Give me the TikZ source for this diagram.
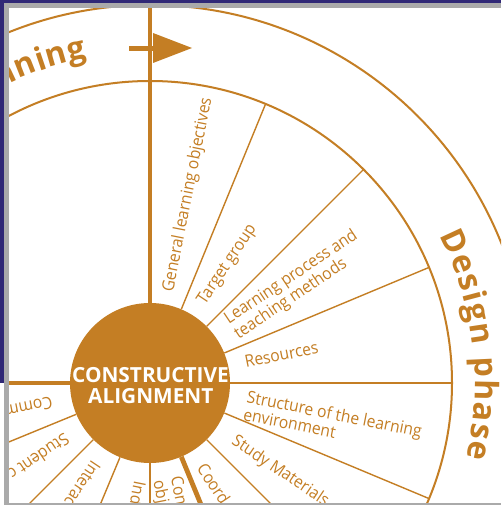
\documentclass[tikz,border=0pt]{standalone}
\usepackage{fontspec}
\setmainfont{Open Sans}
\newfontfamily\lblfont[FakeStretch=0.93]{Open Sans}
\definecolor{oc}{RGB}{196,126,36}
\definecolor{frpurple}{RGB}{48,40,118}
\definecolor{frgrey}{RGB}{170,170,170}
\begin{document}
\begin{tikzpicture}[x=1pt,y=1pt,
  thinspoke/.style={draw=oc, line width=1.4pt},
  thickspoke/.style={draw=oc, line width=4.8pt},
  ring/.style={draw=oc, line width=2pt},
  lbl/.style={text=oc, font=\lblfont\fontsize{16.8}{17.8}\selectfont, anchor=west, inner sep=0pt, align=left},
  bigletter/.style={text=oc, font=\fontsize{32}{36}\selectfont\bfseries, anchor=base, inner sep=0pt},
  hubtext/.style={text=white, font=\fontsize{20.8}{24}\selectfont\bfseries, anchor=base, inner sep=0pt}
]
\useasboundingbox (0,0) rectangle (501,505);
\fill[white] (0,0) rectangle (501,505);
\begin{scope}
  \clip (9,2) rectangle (501,497);
  \begin{scope}[shift={(150,122)}]
    \coordinate (c) at (0,0);
    \draw[ring] (c) circle (302);
    \draw[ring] (c) circle (378);
    \node[circle, fill=oc, minimum size=160pt, inner sep=0pt] (hub) at (c) {};
    \foreach \a [count=\i] in {67.5,45,22.5,0,-22.5,-45,-90,-112.5,-135,-157.5}{
      \coordinate (s\i) at (\a:302);
      \draw[thinspoke] (hub.\a) -- (s\i);
    }
    \foreach \a [count=\i] in {90,180,-67.5}{
      \coordinate (k\i) at (\a:380);
      \draw[thickspoke] (hub.\a) -- (k\i);
    }
    \node[hubtext] (h1) at (0.5,0) {CONSTRUCTIVE};
    \node[hubtext] (h2) at (0.8,-21) {ALIGNMENT};
    % sector labels
    \node[lbl, rotate=78.75] (t1) at (78.4:93) {General learning objectives};
    \node[lbl, rotate=56.25] (t2) at (57:95) {Target group};
    \node[lbl, rotate=33.75] (t3) at (34:98) {Learning process and\\teaching methods};
    \node[lbl, rotate=11.25] (t4) at (12.5:97) {Resources};
    \node[lbl, rotate=-11.25] (t5) at (-13:98) {Structure of the learning\\environment};
    \node[lbl, rotate=-33.75] (t6) at (-34.5:101) {Study Materials};
    \node[lbl, rotate=-56.25] (t7) at (-58:97) {Coord};
    \node[lbl, rotate=-78.75] (t8) at (-80.5:97) {Con\\obj};
    \node[lbl, rotate=-101.25] (t9) at (-95.5:99) {Ind};
    \node[lbl, rotate=-123.75] (t10) at (-123.75:96) {Interac};
    \node[lbl, rotate=-146.25] (t11) at (-146.25:99) {Student c};
    \node[lbl, rotate=-168.75] (t12) at (-168.75:99.5) {Comm};
    % band texts
    \foreach \ch/\a [count=\i] in {D/24.9, e/20.9, s/17.5, i/14.9, g/12.15, n/8.47, p/2.7, h/-1.2, a/-5.0, s/-8.35, e/-11.7}
      \node[bigletter, rotate=\a-90] (d\i) at (\a:325) {\ch};
    \foreach \ch/\a [count=\i] in {P/124.2, l/121.39, a/118.79, n/115.22, n/111.5, i/108.74, n/105.98, g/102.52}
      \node[bigletter, rotate=\a-90] (p\i) at (\a:331) {\ch};
  \end{scope}
  % arrow in the band
  \fill[oc] (129,454) rectangle (156,459);
  \fill[oc] (153,472) -- (192,457) -- (153,442) -- cycle;
\end{scope}
% frame
\fill[frpurple] (0,502) rectangle (501,505);
\fill[frpurple] (0,122) rectangle (4,505);
\fill[frgrey] (4,497) rectangle (501,502);
\fill[frgrey] (4,0) rectangle (9,502);
\fill[frgrey] (4,0) rectangle (501,2);
\end{tikzpicture}
\end{document}
